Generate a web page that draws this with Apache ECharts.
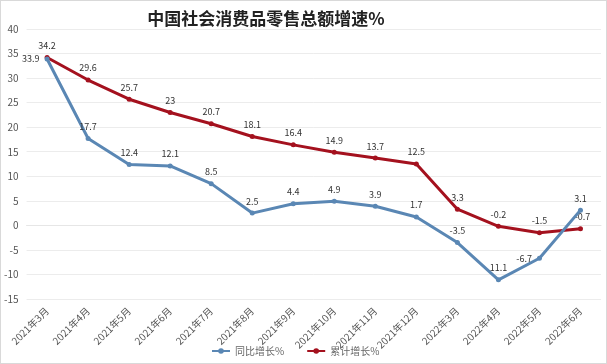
<!DOCTYPE html>
<html>
<head>
<meta charset="utf-8">
<script src="https://cdn.jsdelivr.net/npm/echarts@6/dist/echarts.min.js"></script>
<style>
  html, body { margin: 0; padding: 0; background: #fff; }
  #chart { width: 605px; height: 362px; border: 1px solid #d9d9d9; }
</style>
</head>
<body>
<div id="chart"></div>
<script>
const categories = ["2021年3月", "2021年4月", "2021年5月", "2021年6月", "2021年7月", "2021年8月", "2021年9月",
  "2021年10月", "2021年11月", "2021年12月", "2022年3月", "2022年4月", "2022年5月", "2022年6月"];
const yoyGrowth = [33.9, 17.7, 12.4, 12.1, 8.5, 2.5, 4.4, 4.9, 3.9, 1.7, -3.5, -11.1, -6.7, 3.1];
const cumGrowth = [34.2, 29.6, 25.7, 23, 20.7, 18.1, 16.4, 14.9, 13.7, 12.5, 3.3, -0.2, -1.5, -0.7];
const yTicks = [-15, -10, -5, 0, 5, 10, 15, 20, 25, 30, 35, 40];

const chart = echarts.init(document.getElementById("chart"));
const font = "Noto Sans CJK SC";

const option = {
  title: {
    text: "中国社会消费品零售总额增速%",
    left: 260,
    textAlign: "center",
    top: 4,
    textStyle: { fontFamily: font, fontSize: 17, fontWeight: "bold", color: "#222" }
  },
  legend: {
    bottom: 2,
    left: 205,
    itemWidth: 18,
    itemHeight: 7,
    itemGap: 22,
    textStyle: { fontFamily: font, fontSize: 10, color: "#666" },
    data: ["同比增长%", "累计增长%"]
  },
  grid: { left: 22, right: 5, top: 28, bottom: 64 },
  xAxis: {
    type: "category",
    data: categories,
    boundaryGap: true,
    axisLine: { show: true, lineStyle: { color: "#e6e6e6" } },
    axisTick: { show: false },
    axisLabel: { rotate: 45, fontFamily: font, fontSize: 10, color: "#555", margin: 10, interval: 0 }
  },
  yAxis: {
    type: "value",
    min: yTicks[0],
    max: yTicks[yTicks.length - 1],
    interval: 5,
    axisLine: { show: false },
    axisTick: { show: false },
    axisLabel: { fontFamily: font, fontSize: 10, color: "#555", margin: 8 },
    splitLine: { lineStyle: { color: "#ececec" } }
  },
  series: [
    {
      name: "同比增长%",
      type: "line",
      color: "#5a87b4",
      symbol: "circle",
      symbolSize: 5,
      lineStyle: { width: 3 },
      label: {
        show: true,
        position: "top",
        fontFamily: font,
        fontSize: 9,
        color: "#333",
        formatter: p => p.dataIndex === 11 ? "11.1" : String(p.value)
      },
      labelLayout: { hideOverlap: false },
      data: yoyGrowth.map((v, i) => i === 0 ? { value: v, label: { position: "left", offset: [4, 6] } } :
        i === 12 ? { value: v, label: { position: "left", offset: [4, -4] } } : v),
      z: 3
    },
    {
      name: "累计增长%",
      type: "line",
      color: "#a4111e",
      symbol: "circle",
      symbolSize: 5,
      lineStyle: { width: 3 },
      label: { show: true, position: "top", fontFamily: font, fontSize: 9, color: "#333" },
      data: cumGrowth.map((v, i) => i === 13 ? { value: v, label: { position: "top", offset: [2, 0] } } : v),
      z: 2
    }
  ]
};

chart.setOption(option);
window.onresize = function () { chart.resize(); };
</script>
</body>
</html>
